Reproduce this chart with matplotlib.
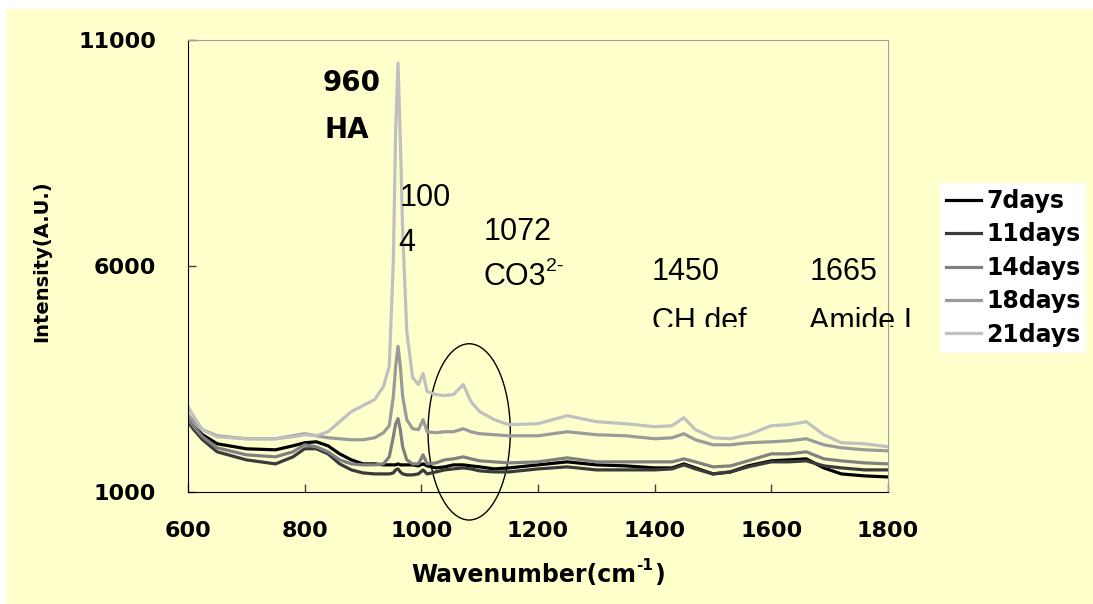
import matplotlib
matplotlib.use('Agg')
import matplotlib.pyplot as plt
from matplotlib.patches import Ellipse, Rectangle

# Raman spectra (wavenumber in cm-1, intensity in A.U.)
wavenumber = [600, 610, 625, 650, 700, 750, 780, 800, 820, 840, 860, 880, 900, 920,
              935, 945, 952, 956, 960, 964, 968, 975, 985, 995, 1003, 1010, 1025,
              1040, 1055, 1072, 1085, 1100, 1125, 1150, 1200, 1250, 1300, 1350, 1400,
              1430, 1450, 1470, 1500, 1530, 1560, 1600, 1630, 1660, 1690, 1720, 1760, 1800]

days7 = [2600, 2444, 2267, 2067, 1956, 1933, 2022, 2089, 2111, 2022, 1844, 1711, 1622, 1622,
         1600, 1600, 1600, 1600, 1622, 1600, 1600, 1600, 1600, 1578, 1622, 1578, 1533,
         1556, 1600, 1600, 1578, 1556, 1511, 1533, 1600, 1667, 1600, 1578, 1533,
         1533, 1622, 1533, 1400, 1444, 1578, 1689, 1711, 1733, 1533, 1400, 1356, 1333]

days11 = [2556, 2378, 2156, 1889, 1711, 1622, 1778, 1956, 1956, 1844, 1622, 1489, 1422, 1400,
          1400, 1400, 1422, 1489, 1511, 1444, 1400, 1378, 1378, 1400, 1489, 1400, 1444,
          1489, 1511, 1533, 1511, 1467, 1444, 1444, 1511, 1556, 1489, 1489, 1489,
          1511, 1600, 1511, 1400, 1444, 1556, 1667, 1667, 1689, 1578, 1533, 1489, 1489]

days14 = [2600, 2444, 2222, 1978, 1822, 1778, 1889, 2044, 2000, 1889, 1711, 1622, 1600, 1600,
          1622, 1778, 2222, 2511, 2622, 2378, 2000, 1711, 1622, 1622, 1822, 1622, 1644,
          1711, 1733, 1778, 1733, 1689, 1667, 1644, 1667, 1756, 1667, 1667, 1667,
          1667, 1733, 1667, 1556, 1578, 1689, 1844, 1844, 1889, 1733, 1689, 1644, 1622]

days18 = [2711, 2556, 2378, 2244, 2178, 2178, 2244, 2289, 2244, 2200, 2178, 2156, 2156, 2200,
          2311, 2467, 3111, 3778, 4222, 3778, 3111, 2600, 2400, 2378, 2600, 2333, 2311,
          2333, 2333, 2400, 2333, 2289, 2267, 2244, 2244, 2333, 2267, 2244, 2178,
          2200, 2289, 2156, 2044, 2044, 2089, 2111, 2133, 2178, 2044, 1978, 1933, 1911]

days21 = [2889, 2667, 2378, 2222, 2178, 2178, 2222, 2267, 2244, 2333, 2556, 2778, 2911, 3044,
          3333, 3778, 6111, 9000, 10489, 8778, 6778, 4556, 3533, 3378, 3622, 3222, 3156,
          3133, 3156, 3378, 3000, 2778, 2600, 2489, 2511, 2689, 2556, 2511, 2444,
          2467, 2644, 2378, 2200, 2178, 2267, 2467, 2489, 2556, 2267, 2089, 2067, 2000]

series = [('7days', days7, '#000000'),
          ('11days', days11, '#3a3a3a'),
          ('14days', days14, '#808080'),
          ('18days', days18, '#9a9a9a'),
          ('21days', days21, '#c0c0c0')]

yellow = '#ffffcc'
fig = plt.figure(figsize=(10.93, 6.04), dpi=100, facecolor='white')
fig.patches.append(Rectangle((6 / 1093, 0), 1, 1 - 9 / 604, transform=fig.transFigure,
                             facecolor=yellow, edgecolor='none', zorder=-10))

ax = fig.add_axes([188 / 1093, 1 - 492 / 604, 700 / 1093, 452 / 604])
ax.set_facecolor(yellow)

for name, vals, col in series:
    ax.plot(wavenumber, vals, color=col, lw=2.3, label=name)

ax.set_xlim(600, 1800)
ax.set_ylim(1000, 11000)
ax.set_xticks(range(600, 1801, 200))
ax.set_yticks([1000, 6000, 11000])
ax.tick_params(axis='both', direction='in', length=6, width=1, color='#404040')
ax.tick_params(axis='x', pad=21)
ax.tick_params(axis='y', pad=23)
for lab in ax.get_xticklabels() + ax.get_yticklabels():
    lab.set_fontsize(16)
    lab.set_fontweight('bold')
    lab.set_family('DejaVu Sans')

ax.spines['left'].set_color('black')
ax.spines['bottom'].set_color('black')
ax.spines['top'].set_color('#a0a0a0')
ax.spines['right'].set_color('#a0a0a0')

# axis titles; the x title is built from pieces so the superscript keeps a plain hyphen
lab_font = dict(fontweight='bold', family='DejaVu Sans')
xl = ax.set_xlabel('Wavenumber(cm', fontsize=17, **lab_font)
ax.xaxis.set_label_coords(0.479, -0.158)
ax.annotate('-1', xy=(1.0, 0.6), xycoords=xl, xytext=(0.5, 0), textcoords='offset points',
            fontsize=11, ha='left', va='bottom', **lab_font)
ax.annotate(')', xy=(1.0, 0.0), xycoords=xl, xytext=(13, 0), textcoords='offset points',
            fontsize=17, ha='left', va='bottom', **lab_font)
ax.set_ylabel('Intensity(A.U.)', fontsize=14, **lab_font)
ax.yaxis.set_label_coords(-0.195, 0.51)

# circle round the carbonate band
ax.add_patch(Ellipse((1082, 2330), 141, 3900, facecolor='none', edgecolor='black',
                     lw=1, clip_on=False))

# peak annotations
bold_kw = dict(fontsize=20, fontweight='bold', family='DejaVu Sans', ha='left', va='center')
ax.text(830, 10050, '960', **bold_kw)
ax.text(834, 9010, 'HA', **bold_kw)

reg_kw = dict(fontsize=22, family='Liberation Sans', ha='left', va='center')
ax.text(963, 7500, '100', **reg_kw)
ax.text(960, 6510, '4', **reg_kw)
ax.text(1107, 6750, '1072', **reg_kw)
co3 = ax.text(1107, 5760, 'CO3', **reg_kw)
ax.annotate('2-', xy=(1.0, 0.55), xycoords=co3, fontsize=14, family='Liberation Sans',
            ha='left', va='bottom')
ax.text(1395, 5870, '1450', **reg_kw)
ax.text(1665, 5870, '1665', **reg_kw)

clip = Rectangle((1300, 4650), 700, 3000, transform=ax.transData)
for x, s in [(1395, 'CH def'), (1665, 'Amide I')]:
    t = ax.text(x, 4760, s, clip_on=True, **reg_kw)
    t.set_clip_path(clip)

leg = fig.legend(loc='upper left', bbox_to_anchor=(940 / 1093, 1 - 183 / 604),
                 frameon=True, fancybox=False, facecolor='white', edgecolor='none',
                 framealpha=1, borderpad=0.25, borderaxespad=0, handlelength=1.5,
                 handletextpad=0.2, labelspacing=0.4,
                 prop={'family': 'DejaVu Sans', 'weight': 'bold', 'size': 17})

fig.savefig('out.png', dpi=100, facecolor='white')
